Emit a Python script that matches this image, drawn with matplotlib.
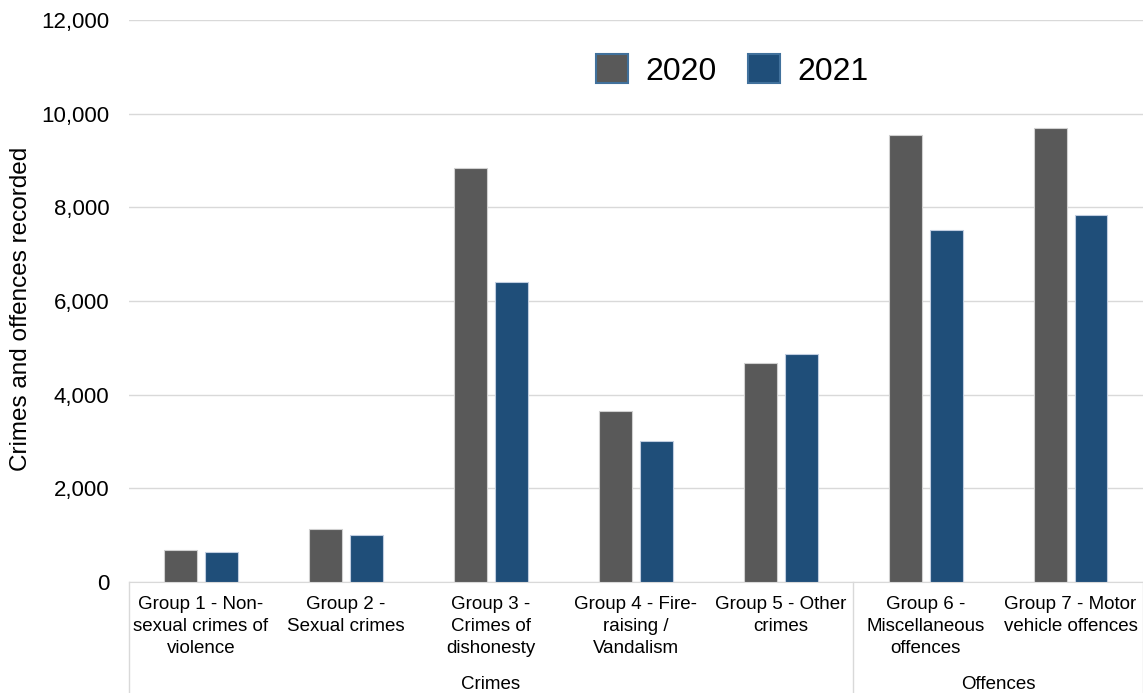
import numpy as np
import matplotlib
matplotlib.use("Agg")
import matplotlib.pyplot as plt
import matplotlib.transforms as mtransforms
from matplotlib.ticker import FuncFormatter

plt.rcParams["font.family"] = ["Liberation Sans", "DejaVu Sans"]

categories = [
    "Group 1 - Non-\nsexual crimes of\nviolence",
    "Group 2 -\nSexual crimes",
    "Group 3 -\nCrimes of\ndishonesty",
    "Group 4 - Fire-\nraising /\nVandalism",
    "Group 5 - Other\ncrimes",
    "Group 6 -\nMiscellaneous\noffences",
    "Group 7 - Motor\nvehicle offences",
]
values_2020 = [680, 1130, 8840, 3650, 4680, 9545, 9695]
values_2021 = [650, 1000, 6400, 3010, 4870, 7515, 7840]
groups = ["Crimes", "Offences"]
group_spans = [(0, 4), (5, 6)]

fig = plt.figure(figsize=(11.43, 6.93), dpi=100)
ax = fig.add_axes([0.1125, 0.160, 0.8875, 0.811])

x = np.arange(len(categories))
w = 0.227
off = 0.141
ax.bar(x - off, values_2020, w, color="#595959", edgecolor="#d0d0d0",
       linewidth=0.8, label="2020", zorder=3)
ax.bar(x + off, values_2021, w, color="#1F4E79", edgecolor="#c0cde0",
       linewidth=0.8, label="2021", zorder=3)

ax.set_xlim(-0.5, len(categories) - 0.5)
ax.set_ylim(0, 12000)
ax.set_yticks(range(0, 12001, 2000))
ax.yaxis.set_major_formatter(FuncFormatter(lambda v, p: f"{int(v):,}"))
ax.grid(axis="y", color="#d9d9d9", linewidth=1, zorder=0)
for s in ["top", "right", "left"]:
    ax.spines[s].set_visible(False)
ax.spines["bottom"].set_color("#d9d9d9")
ax.tick_params(axis="y", length=0, labelsize=16, pad=14)
ax.tick_params(axis="x", length=0, labelsize=13.5, pad=10)
ax.set_xticks(x)
ax.set_xticklabels(categories, linespacing=1.4)

fig.text(0.018, 0.555, "Crimes and offences recorded", rotation=90,
         ha="center", va="center", fontsize=17.5)

# category group separators and labels below the axis
trans = mtransforms.blended_transform_factory(ax.transData, ax.transAxes)
bottom = -0.197
edges = [-0.5, 4.5, 6.5]
for e in edges:
    ax.plot([e, e], [0, bottom], transform=trans, color="#d9d9d9",
            linewidth=1, clip_on=False)
for name, (a, b) in zip(groups, group_spans):
    ax.text((a + b) / 2, -0.183, name, transform=trans, ha="center",
            va="center", fontsize=13.5)

leg = ax.legend(loc="upper left", bbox_to_anchor=(0.432, 0.99), ncol=2,
                frameon=False, fontsize=23, handlelength=1.0,
                handleheight=1.0, columnspacing=1.0, handletextpad=0.55)
for h in leg.legend_handles:
    h.set_edgecolor("#41719C")
    h.set_linewidth(1.5)

fig.savefig("out.png", dpi=100)
